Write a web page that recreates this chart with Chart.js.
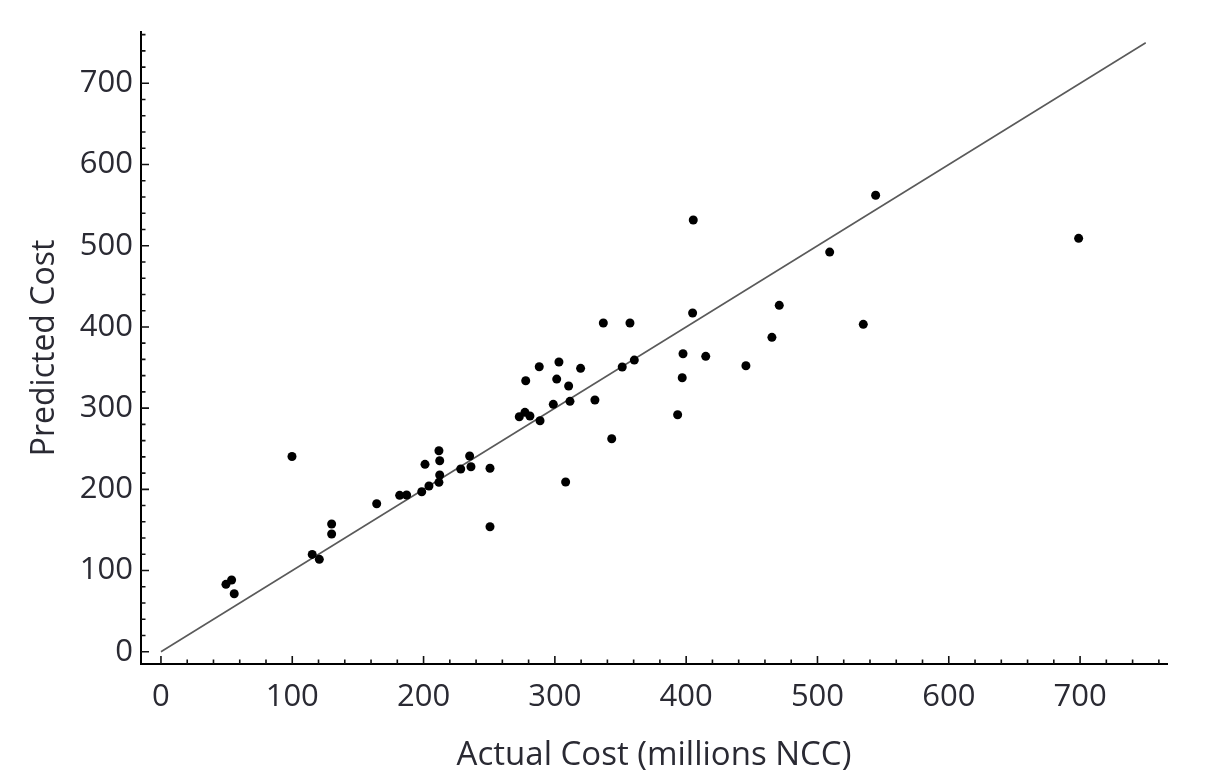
<!DOCTYPE html>
<html>
<head>
<meta charset="utf-8">
<title>Actual vs Predicted Cost</title>
<script src="https://cdn.jsdelivr.net/npm/chart.js@4.4.1/dist/chart.umd.min.js"></script>
<style>
  html, body { margin: 0; padding: 0; background: #ffffff; }
  #wrap { width: 1206px; height: 781px; position: relative; }
</style>
</head>
<body>
<div id="wrap"><canvas id="chart" width="1206" height="781"></canvas></div>
<script>
// Actual cost (millions NCC) of each project
const actualCost = [
  49.5, 53.8, 55.8, 99.8, 115.2, 120.6, 130.0, 130.0, 164.3, 181.8,
  187.1, 198.6, 204.1, 211.7, 212.3, 201.1, 212.3, 211.7, 228.3, 235.1,
  236.1, 250.6, 250.6, 272.9, 277.2, 281.0, 288.7, 277.8, 298.8, 301.4,
  288.1, 303.1, 310.5, 311.5, 319.6, 330.5, 308.2, 343.3, 351.3, 360.5,
  336.9, 357.2, 397.6, 404.9, 414.9, 397.0, 393.5, 405.4, 445.5, 465.3,
  470.9, 509.3, 534.9, 544.3, 698.9
];
// Model-predicted cost for the same projects
const predictedCost = [
  83.0, 88.3, 71.4, 240.5, 119.9, 113.8, 157.3, 145.0, 182.3, 192.6,
  193.0, 197.0, 204.1, 208.6, 217.6, 230.8, 235.2, 247.5, 225.0, 241.0,
  227.8, 225.9, 153.9, 289.4, 294.8, 290.3, 284.5, 333.7, 304.7, 335.8,
  351.0, 356.8, 327.2, 308.4, 349.0, 310.0, 209.0, 262.3, 350.6, 359.2,
  404.8, 404.8, 367.0, 417.1, 363.8, 337.4, 291.9, 531.7, 352.2, 387.2,
  426.6, 492.2, 403.2, 562.1, 509.1
];
// Reference line: predicted = actual
const identityLine = [0, 750];

// Axis ranges and labels
const xRange = [-15.2, 766.2];
const yRange = [-15.1, 763.2];
const xTickValues = [0, 100, 200, 300, 400, 500, 600, 700];
const yTickValues = [0, 100, 200, 300, 400, 500, 600, 700];
const minorStep = 20;
const minorMax = 760;

const xTitle = 'Actual Cost (millions NCC)';
const yTitle = 'Predicted Cost';

const FONT = '"Open Sans", "Noto Sans", "DejaVu Sans", sans-serif';
const TEXT = '#2a2a33';

const points = actualCost.map((x, i) => ({ x: x, y: predictedCost[i] }));
const linePts = identityLine.map(v => ({ x: v, y: v }));

// Draws inward-pointing major and minor tick marks on both axes
const inwardTicks = {
  id: 'inwardTicks',
  afterDraw(chart) {
    const { ctx, chartArea, scales } = chart;
    const xs = scales.x, ys = scales.y;
    ctx.save();
    ctx.strokeStyle = '#111';
    ctx.lineWidth = 1.6;
    ctx.beginPath();
    for (let v = 0; v <= minorMax; v += minorStep) {
      const major = v % 100 === 0;
      const len = major ? 8 : 4.5;
      const px = xs.getPixelForValue(v);
      if (px >= chartArea.left && px <= chartArea.right) {
        ctx.moveTo(px, chartArea.bottom);
        ctx.lineTo(px, chartArea.bottom - len);
      }
      const py = ys.getPixelForValue(v);
      if (py >= chartArea.top && py <= chartArea.bottom) {
        ctx.moveTo(chartArea.left, py);
        ctx.lineTo(chartArea.left + len, py);
      }
    }
    ctx.stroke();
    ctx.restore();
  }
};

new Chart(document.getElementById('chart'), {
  type: 'scatter',
  data: {
    datasets: [
      {
        type: 'line',
        data: linePts,
        borderColor: '#5a5a5a',
        borderWidth: 1.6,
        pointRadius: 0,
        fill: false,
        order: 2
      },
      {
        data: points,
        backgroundColor: '#000',
        borderColor: '#000',
        pointRadius: 4.5,
        pointBorderWidth: 0,
        order: 1
      }
    ]
  },
  options: {
    responsive: false,
    animation: false,
    devicePixelRatio: 1,
    layout: { padding: { top: 32, right: 39, left: 0, bottom: 0 } },
    plugins: {
      legend: { display: false },
      tooltip: { enabled: false }
    },
    scales: {
      x: {
        type: 'linear',
        min: xRange[0],
        max: xRange[1],
        afterBuildTicks(scale) { scale.ticks = xTickValues.map(v => ({ value: v })); },
        afterFit(scale) { scale.height = 117; },
        grid: { display: false, drawTicks: false },
        border: { display: true, color: '#000', width: 2 },
        ticks: {
          padding: 15,
          maxRotation: 0,
          autoSkip: false,
          color: TEXT,
          font: { family: FONT, size: 31 }
        },
        title: {
          display: true,
          text: xTitle,
          color: TEXT,
          font: { family: FONT, size: 33 },
          padding: { top: 0, bottom: 6 }
        }
      },
      y: {
        type: 'linear',
        min: yRange[0],
        max: yRange[1],
        afterBuildTicks(scale) { scale.ticks = yTickValues.map(v => ({ value: v })); },
        afterFit(scale) { scale.width = 141; },
        grid: { display: false, drawTicks: false },
        border: { display: true, color: '#000', width: 2 },
        ticks: {
          padding: 8,
          autoSkip: false,
          color: TEXT,
          font: { family: FONT, size: 31 }
        },
        title: {
          display: true,
          text: yTitle,
          color: TEXT,
          font: { family: FONT, size: 32 },
          padding: { top: 26, bottom: 0 }
        }
      }
    }
  },
  plugins: [inwardTicks]
});
</script>
</body>
</html>
